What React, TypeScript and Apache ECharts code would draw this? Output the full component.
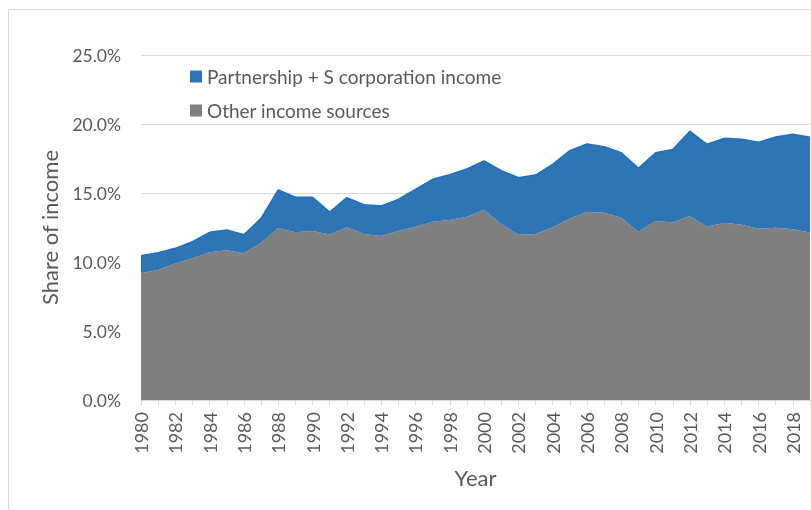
import React, { useEffect, useRef } from "react";
import * as echarts from "echarts";

const years = Array.from({ length: 40 }, (_, i) => String(1980 + i));
const otherIncome = [9.18, 9.42, 9.9, 10.27, 10.7, 10.85, 10.63, 11.4, 12.46, 12.15, 12.25, 12.0, 12.51, 12.03, 11.88, 12.25, 12.56, 12.92, 13.04, 13.28, 13.79, 12.73, 11.98, 12.03, 12.51, 13.16, 13.62, 13.57, 13.21, 12.2, 12.97, 12.87, 13.33, 12.56, 12.85, 12.7, 12.41, 12.49, 12.37, 12.13];
const partnershipIncome = [1.28, 1.26, 1.09, 1.2, 1.45, 1.47, 1.35, 1.76, 2.76, 2.54, 2.44, 1.62, 2.15, 2.12, 2.18, 2.29, 2.71, 3.07, 3.29, 3.46, 3.53, 3.89, 4.13, 4.27, 4.57, 4.91, 4.93, 4.79, 4.71, 4.59, 4.95, 5.29, 6.14, 5.97, 6.11, 6.19, 6.26, 6.57, 6.88, 6.91];

const FONT = "Lato, 'Open Sans', sans-serif";
const TXT = "#595959";

export default function App() {
  const ref = useRef<HTMLDivElement>(null);
  useEffect(() => {
    const chart = echarts.init(ref.current!, null, { renderer: "svg" });
    chart.setOption({
      animation: false,
      graphic: [
        {
          type: "rect",
          shape: { x: 8.5, y: 9.5, width: 900, height: 600 },
          style: { fill: "none", stroke: "#D9D9D9", lineWidth: 1 },
          z: -1,
        },
      ],
      legend: {
        orient: "vertical",
        left: 185,
        top: 62,
        itemWidth: 12,
        itemHeight: 12,
        itemGap: 15,
        icon: "rect",
        textStyle: { color: TXT, fontSize: 19, fontFamily: FONT },
        data: ["Partnership + S corporation income", "Other income sources"],
      },
      grid: { left: 141, right: 1, top: 55, bottom: 110 },
      xAxis: {
        type: "category",
        data: years,
        boundaryGap: false,
        name: "Year",
        nameLocation: "middle",
        nameGap: 66,
        nameTextStyle: { color: TXT, fontSize: 22, fontFamily: FONT },
        axisLine: { lineStyle: { color: "#D9D9D9" } },
        axisTick: { show: true, interval: 0, length: 5, lineStyle: { color: "#D9D9D9" } },
        axisLabel: { rotate: 90, interval: 1, margin: 12, color: TXT, fontSize: 18, fontFamily: FONT },
      },
      yAxis: {
        type: "value",
        min: 0,
        max: 25,
        interval: 5,
        name: "Share of income",
        nameLocation: "middle",
        nameGap: 81,
        nameTextStyle: { color: TXT, fontSize: 22, fontFamily: FONT },
        axisLine: { show: false },
        axisTick: { show: false },
        splitLine: { lineStyle: { color: "#D9D9D9" } },
        axisLabel: { color: TXT, fontSize: 17.5, fontFamily: FONT, margin: 20, formatter: (v: number) => v.toFixed(1) + "%" },
      },
      series: [
        {
          name: "Other income sources",
          type: "line",
          stack: "total",
          data: otherIncome,
          symbol: "none",
          lineStyle: { width: 0, color: "#7F7F7F" },
          itemStyle: { color: "#7F7F7F" },
          areaStyle: { color: "#7F7F7F", opacity: 1 },
        },
        {
          name: "Partnership + S corporation income",
          type: "line",
          stack: "total",
          data: partnershipIncome,
          symbol: "none",
          lineStyle: { width: 1.5, color: "#1F6FC0" },
          itemStyle: { color: "#2E75B6" },
          areaStyle: { color: "#2E75B6", opacity: 1 },
        },
      ],
    });
    return () => chart.dispose();
  }, []);
  return <div ref={ref} style={{ position: "fixed", left: 0, top: 0, width: 811, height: 510 }} />;
}
